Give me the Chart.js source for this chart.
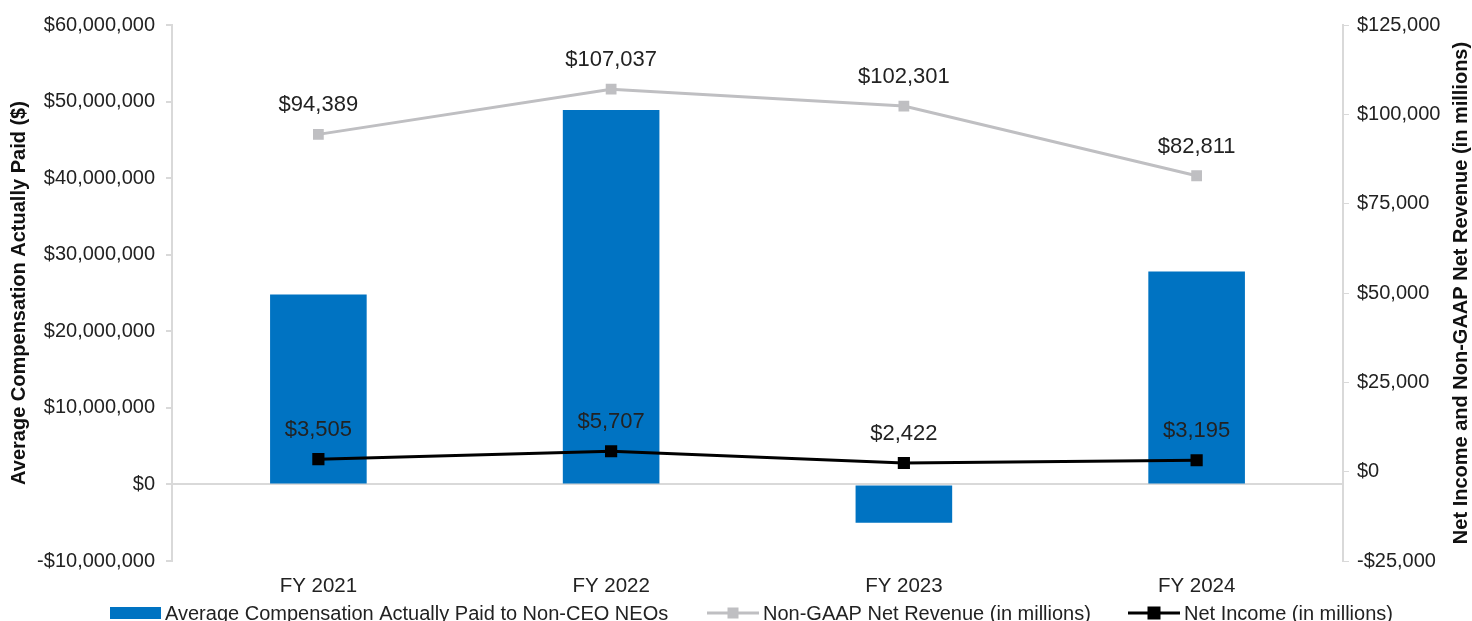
<!DOCTYPE html>
<html>
    <head>
        <meta charset="utf-8">
        <title>Compensation vs Revenue and Net Income</title>
        <script src="https://cdn.jsdelivr.net/npm/chart.js@4.4.1/dist/chart.umd.min.js"></script>
        <style>
            html, body { margin: 0; padding: 0; background: #fff; }
            #wrap { width: 1472px; height: 621px; }
        </style>
    </head>
    <body>
        <div id="wrap"><canvas id="chart" width="1472" height="621"></canvas></div>
        <script>
// data
const years = ['FY 2021', 'FY 2022', 'FY 2023', 'FY 2024'];
const avgComp = [24800000, 48900000, -5000000, 27800000];
const nonGaapRevenue = [94389, 107037, 102301, 82811];
const netIncome = [3505, 5707, 2422, 3195];
const leftTicks = [-10000000, 0, 10000000, 20000000, 30000000, 40000000, 50000000, 60000000];
const rightTicks = [-25000, 0, 25000, 50000, 75000, 100000, 125000];
const rightTitle = 'Net Income and Non-GAAP Net Revenue (in millions)';

const FONT = 'Liberation Sans, Arial, sans-serif';
const axisGray = '#d9d9d9';

function money(v) {
    const s = '$' + Math.abs(v).toLocaleString('en-US');
    return v < 0 ? '-' + s : s;
}

// labels above the line points
const pointLabels = {
    id: 'pointLabels',
    afterDatasetsDraw(chart) {
        const ctx = chart.ctx;
        ctx.save();
        ctx.font = '22px ' + FONT;
        ctx.fillStyle = '#222';
        ctx.textAlign = 'center';
        ctx.textBaseline = 'bottom';
        chart.data.datasets.forEach((ds, i) => {
            if (ds.type !== 'line') return;
            chart.getDatasetMeta(i).data.forEach((pt, j) => {
                ctx.fillText(money(ds.data[j]), pt.x, pt.y - 18);
            });
        });
        ctx.restore();
    }
};

// right title reads bottom-to-top like the left one
const rightAxisTitle = {
    id: 'rightAxisTitle',
    afterDraw(chart) {
        const ctx = chart.ctx;
        const a = chart.chartArea;
        ctx.save();
        ctx.translate(1461, (a.top + a.bottom) / 2);
        ctx.rotate(-Math.PI / 2);
        ctx.font = 'bold 20px ' + FONT;
        ctx.fillStyle = '#111';
        ctx.textAlign = 'center';
        ctx.textBaseline = 'middle';
        ctx.fillText(rightTitle, 0, 0);
        ctx.restore();
    }
};

// legend drawn by hand so the line markers show a square
const bottomLegend = {
    id: 'bottomLegend',
    afterDraw(chart) {
        const ctx = chart.ctx;
        const y = 613;
        ctx.save();
        ctx.font = '20px ' + FONT;
        ctx.textBaseline = 'middle';
        const xs = [110, 707, 1128];
        chart.data.datasets.forEach((ds, i) => {
            const x = xs[i];
            if (ds.type === 'bar') {
                ctx.fillStyle = ds.backgroundColor;
                ctx.fillRect(x, y - 6, 51, 12);
            } else {
                ctx.strokeStyle = ds.borderColor;
                ctx.lineWidth = 3;
                ctx.beginPath();
                ctx.moveTo(x, y);
                ctx.lineTo(x + 52, y);
                ctx.stroke();
                const s = ds.pointRadius * 2;
                ctx.fillStyle = ds.pointBackgroundColor;
                ctx.fillRect(x + 26 - s / 2, y - s / 2, s, s);
            }
            ctx.fillStyle = '#222';
            ctx.fillText(ds.label, x + (ds.type === 'bar' ? 55 : 56), y + 1);
        });
        ctx.restore();
    }
};

const ctx = document.getElementById('chart').getContext('2d');
new Chart(ctx, {
    data: {
        labels: years,
        datasets: [
            {
                type: 'bar',
                label: 'Average Compensation Actually Paid to Non-CEO NEOs',
                data: avgComp,
                backgroundColor: '#0073c2',
                yAxisID: 'y',
                barPercentage: 0.66,
                categoryPercentage: 0.5,
                order: 3
            },
            {
                type: 'line',
                label: 'Non-GAAP Net Revenue (in millions)',
                data: nonGaapRevenue,
                borderColor: '#bfbfc2',
                borderWidth: 3,
                pointStyle: 'rect',
                pointRadius: 5.5,
                pointBackgroundColor: '#bfbfc2',
                pointBorderColor: '#bfbfc2',
                yAxisID: 'y1',
                order: 2
            },
            {
                type: 'line',
                label: 'Net Income (in millions)',
                data: netIncome,
                borderColor: '#000',
                borderWidth: 3,
                pointStyle: 'rect',
                pointRadius: 6.5,
                pointBackgroundColor: '#000',
                pointBorderColor: '#000',
                yAxisID: 'y1',
                order: 1
            }
        ]
    },
    options: {
        responsive: false,
        animation: false,
        layout: { padding: { top: 25, bottom: 24, left: 0, right: 0 } },
        plugins: {
            legend: { display: false },
            tooltip: { enabled: false }
        },
        scales: {
            x: {
                grid: { display: false },
                border: { display: false },
                ticks: { color: '#222', font: { family: FONT, size: 20.5 }, padding: 5 },
                afterFit: s => { s.height = 36; }
            },
            y: {
                position: 'left',
                min: -10000000,
                max: 60000000,
                afterBuildTicks: s => { s.ticks = leftTicks.map(v => ({ value: v })); },
                afterFit: s => { s.width = 172; },
                border: { color: axisGray, width: 2 },
                grid: {
                    color: c => c.tick && c.tick.value === 0 ? axisGray : 'rgba(0,0,0,0)',
                    lineWidth: 2,
                    tickColor: axisGray,
                    tickLength: 6
                },
                ticks: {
                    color: '#222',
                    font: { family: FONT, size: 20 },
                    padding: 11,
                    callback: v => money(v)
                },
                title: {
                    display: true,
                    text: 'Average Compensation Actually Paid ($)',
                    color: '#111',
                    font: { family: FONT, size: 20, weight: 'bold' },
                    padding: { top: 7, bottom: 0 }
                }
            },
            y1: {
                position: 'right',
                min: -25000,
                max: 125000,
                afterBuildTicks: s => { s.ticks = rightTicks.map(v => ({ value: v })); },
                afterFit: s => { s.width = 129; },
                border: { color: axisGray, width: 2 },
                grid: { drawOnChartArea: false, tickColor: axisGray, tickLength: 6 },
                ticks: {
                    color: '#222',
                    font: { family: FONT, size: 20 },
                    padding: 8,
                    callback: v => money(v)
                }
            }
        }
    },
    plugins: [pointLabels, rightAxisTitle, bottomLegend]
});
        </script>
    </body>
</html>
